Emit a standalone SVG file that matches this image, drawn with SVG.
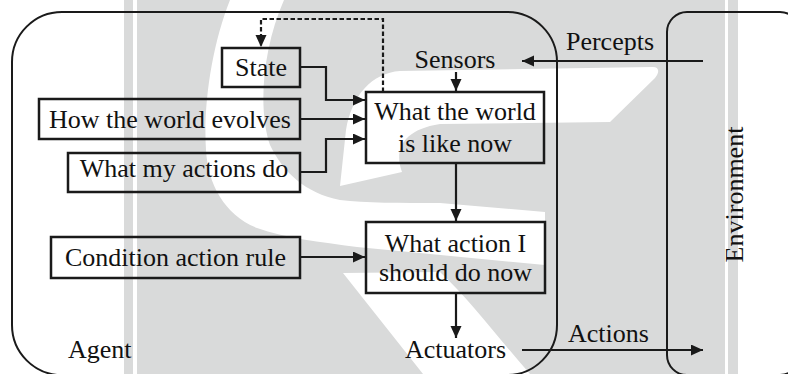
<svg xmlns="http://www.w3.org/2000/svg" width="788" height="374" viewBox="0 0 788 374">
<style>
.t{font-family:"Liberation Serif","Times New Roman",serif;font-size:26px;fill:#111;text-anchor:middle}
.box{fill:none;stroke:#1a1a1a;stroke-width:2.5}
.frame{fill:none;stroke:#1a1a1a;stroke-width:2}
.ln{fill:none;stroke:#1a1a1a;stroke-width:2.2;marker-end:url(#ah)}
.dash{stroke-dasharray:4.5 2.5}
.wm{fill:#d9dada}
.wh{fill:#ffffff}
</style>
<defs>
<marker id="ah" markerUnits="userSpaceOnUse" markerWidth="13" markerHeight="12" refX="12" refY="5.5" orient="auto">
<path d="M0,0 L12,5.5 L0,11 Z" fill="#1a1a1a"/>
</marker>
</defs>
<rect width="788" height="374" fill="#ffffff"/>
<g id="watermark">
<rect class="wm" x="124" y="0" width="9" height="374"/>
<rect class="wm" x="137" y="0" width="588" height="374"/>
<rect class="wm" x="728" y="0" width="10" height="374"/>
<path class="wh" d="M230,0 C212,45 203,105 206,150 C208,185 225,215 257,228 C285,238 320,242 357,247 L545,265 L545,212 L440,203 C400,203 365,203 340,200 C305,193 283,172 270,145 C258,110 262,50 284,0 Z"/>
<path class="wh" d="M653,67 L400,71 C372,73 352,95 346,130 L340,186 L402,172 C394,150 402,130 440,124 L610,122 L655,78 C660,72 659,67 653,67 Z"/>
<path class="wh" d="M343,273 L423,374 L530,374 C500,340 470,300 440,272 Z"/>
</g>
<g id="agent">
<rect class="frame" x="12" y="12" width="545" height="363" rx="50" ry="50"/>
<text class="t" x="68" y="358" style="text-anchor:start">Agent</text>
</g>
<g id="environment">
<rect class="frame" x="667" y="12" width="133" height="363" rx="20" ry="20"/>
<text class="t" transform="translate(743,194.5) rotate(-90)">Environment</text>
</g>
<g id="sensors"><text class="t" x="455" y="68">Sensors</text></g>
<g id="actuators"><text class="t" x="455.5" y="358">Actuators</text></g>
<g id="state">
<rect class="box" x="222" y="48" width="78" height="39"/>
<text class="t" x="261" y="76">State</text>
</g>
<g id="how-world-evolves">
<rect class="box" x="39" y="99" width="261" height="40"/>
<text class="t" x="170" y="128">How the world evolves</text>
</g>
<g id="what-my-actions-do">
<rect class="box" x="68" y="153" width="232" height="39"/>
<text class="t" x="184" y="177">What my actions do</text>
</g>
<g id="condition-action-rule">
<rect class="box" x="51" y="237" width="249" height="41"/>
<text class="t" x="175.5" y="266">Condition action rule</text>
</g>
<g id="world-now">
<rect class="box" x="366" y="92" width="178" height="71"/>
<text class="t" x="455" y="120">What the world</text>
<text class="t" x="455" y="152">is like now</text>
</g>
<g id="action-now">
<rect class="box" x="366" y="222" width="179" height="71"/>
<text class="t" x="455.5" y="252">What action I</text>
<text class="t" x="455.5" y="281">should do now</text>
</g>
<g id="connectors">
<path class="ln" d="M300,67 H326 V100 H365"/>
<path class="ln" d="M300,119 H365"/>
<path class="ln" d="M300,172 H326 V139 H365"/>
<path class="ln" d="M300,257 H365"/>
<path class="ln" d="M456,72 V91"/>
<path class="ln" d="M456,163 V221"/>
<path class="ln" d="M456,293 V338"/>
<path class="ln" d="M703,61 H522"/>
<path class="ln" d="M522,350 H703"/>
<path class="ln dash" d="M383,92 V19 H261 V47"/>
<text class="t" x="610" y="50">Percepts</text>
<text class="t" x="608.5" y="342">Actions</text>
</g>
</svg>
